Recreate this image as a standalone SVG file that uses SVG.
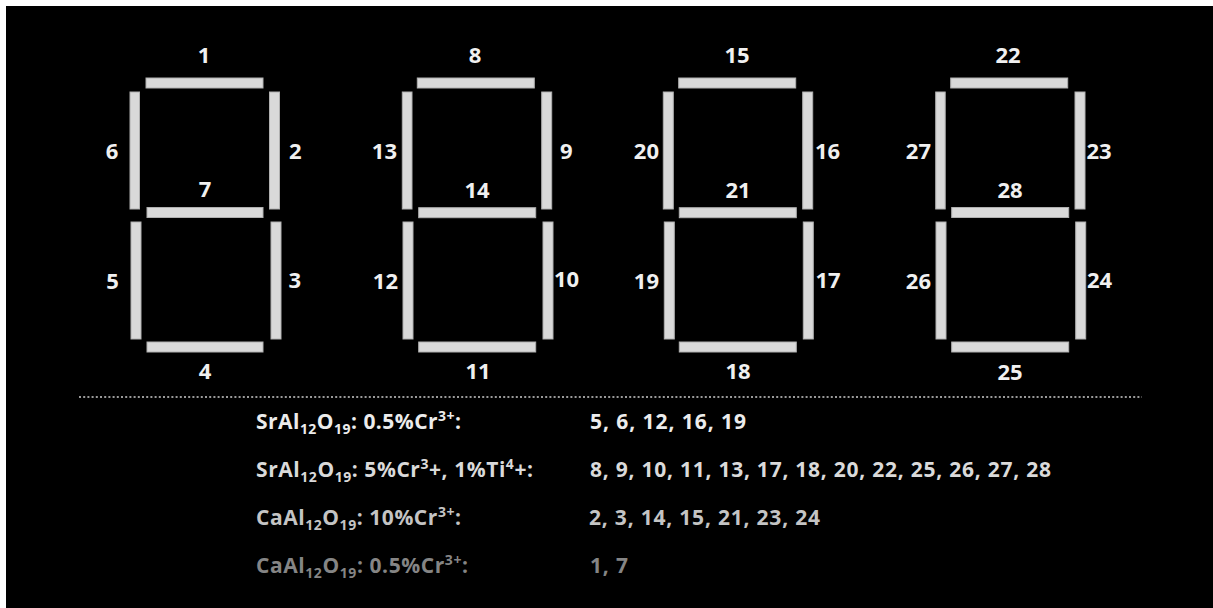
<svg xmlns="http://www.w3.org/2000/svg" width="1213" height="608" viewBox="0 0 1213 608">
<style>
.seg{fill:#d9d9d9;stroke:#b0b0b0;stroke-width:1}
.lbl{font-family:"Open Sans","Liberation Sans",sans-serif;font-weight:700;font-size:22px;fill:#f0f0f0}
.m{text-anchor:middle}
.e{text-anchor:end}
.leg{font-family:"Open Sans","Liberation Sans",sans-serif;font-weight:700;font-size:21px}
.sub{font-size:14px}
.l1{fill:#ececec}.l2{fill:#dadada}.l3{fill:#c4c4c4}.l4{fill:#858585}
</style>
<rect x="0" y="0" width="1213" height="608" fill="#ffffff"/>
<rect x="6" y="6" width="1207" height="602" fill="#000000"/>
<g id="digit1">
<rect class="seg" x="146" y="78" width="117" height="10"/>
<rect class="seg" x="130" y="92" width="9.5" height="117"/>
<rect class="seg" x="269.5" y="92" width="10" height="117"/>
<rect class="seg" x="147" y="207.5" width="116" height="10"/>
<rect class="seg" x="131" y="222" width="10" height="117"/>
<rect class="seg" x="271" y="222" width="10" height="117"/>
<rect class="seg" x="147" y="342" width="116" height="10"/>
<text class="lbl m" x="204" y="63">1</text>
<text class="lbl m" x="112" y="159">6</text>
<text class="lbl" x="289" y="159">2</text>
<text class="lbl m" x="205" y="197">7</text>
<text class="lbl m" x="112.5" y="289">5</text>
<text class="lbl" x="288.5" y="288">3</text>
<text class="lbl m" x="205" y="379">4</text>
</g>
<g id="digit2">
<rect class="seg" x="417.3" y="78" width="117" height="10"/>
<rect class="seg" x="402.3" y="92" width="9.7" height="117"/>
<rect class="seg" x="541.7" y="92" width="10" height="117"/>
<rect class="seg" x="418.7" y="207.7" width="117" height="10"/>
<rect class="seg" x="403" y="222" width="10" height="117"/>
<rect class="seg" x="543" y="222" width="10" height="117"/>
<rect class="seg" x="418.7" y="342" width="117" height="10"/>
<text class="lbl m" x="475" y="63">8</text>
<text class="lbl e" x="397" y="159">13</text>
<text class="lbl" x="560" y="159">9</text>
<text class="lbl m" x="477" y="198">14</text>
<text class="lbl e" x="398" y="289">12</text>
<text class="lbl" x="554" y="287">10</text>
<text class="lbl m" x="478" y="379">11</text>
</g>
<g id="digit3">
<rect class="seg" x="678.7" y="78" width="117" height="10"/>
<rect class="seg" x="663.3" y="92" width="10" height="117"/>
<rect class="seg" x="802.7" y="92" width="10" height="117"/>
<rect class="seg" x="679.3" y="207.7" width="117" height="10"/>
<rect class="seg" x="664.3" y="222" width="10" height="117"/>
<rect class="seg" x="803.3" y="222" width="10" height="117"/>
<rect class="seg" x="679.3" y="342" width="117" height="10"/>
<text class="lbl m" x="737" y="63">15</text>
<text class="lbl e" x="659" y="159">20</text>
<text class="lbl" x="815" y="159">16</text>
<text class="lbl m" x="738" y="198">21</text>
<text class="lbl e" x="659" y="289">19</text>
<text class="lbl" x="815.5" y="288">17</text>
<text class="lbl m" x="738" y="379">18</text>
</g>
<g id="digit4">
<rect class="seg" x="950.7" y="78" width="117" height="10"/>
<rect class="seg" x="935.7" y="92" width="9.5" height="117"/>
<rect class="seg" x="1075" y="92" width="10" height="117"/>
<rect class="seg" x="951.7" y="207.5" width="117" height="10"/>
<rect class="seg" x="936" y="222" width="10" height="117"/>
<rect class="seg" x="1075.7" y="222" width="10" height="117"/>
<rect class="seg" x="951.7" y="342" width="117" height="10"/>
<text class="lbl m" x="1008" y="63">22</text>
<text class="lbl e" x="931" y="159">27</text>
<text class="lbl" x="1086.5" y="159">23</text>
<text class="lbl m" x="1010" y="198">28</text>
<text class="lbl e" x="931" y="289">26</text>
<text class="lbl" x="1087" y="288">24</text>
<text class="lbl m" x="1010" y="380">25</text>
</g>
<g id="connectors">
<line x1="79" y1="397" x2="1142" y2="397" stroke="#9a9a9a" stroke-width="2" stroke-dasharray="2 2.2"/>
</g>
<g id="legend">
<text class="leg l1" x="256" y="429" textLength="205" lengthAdjust="spacing">SrAl<tspan class="sub" dy="5">12</tspan><tspan dy="-5">O</tspan><tspan class="sub" dy="5">19</tspan><tspan dy="-5">: 0.5%Cr</tspan><tspan class="sub" dy="-8">3+</tspan><tspan dy="8">:</tspan></text>
<text class="leg l1" x="590" y="429" textLength="156" lengthAdjust="spacing">5, 6, 12, 16, 19</text>
<text class="leg l2" x="256" y="477" textLength="277" lengthAdjust="spacing">SrAl<tspan class="sub" dy="5">12</tspan><tspan dy="-5">O</tspan><tspan class="sub" dy="5">19</tspan><tspan dy="-5">: 5%Cr</tspan><tspan class="sub" dy="-8">3</tspan><tspan dy="8">+, 1%Ti</tspan><tspan class="sub" dy="-8">4</tspan><tspan dy="8">+:</tspan></text>
<text class="leg l2" x="590" y="477" textLength="461" lengthAdjust="spacing">8, 9, 10, 11, 13, 17, 18, 20, 22, 25, 26, 27, 28</text>
<text class="leg l3" x="256" y="525" textLength="205" lengthAdjust="spacing">CaAl<tspan class="sub" dy="5">12</tspan><tspan dy="-5">O</tspan><tspan class="sub" dy="5">19</tspan><tspan dy="-5">: 10%Cr</tspan><tspan class="sub" dy="-8">3+</tspan><tspan dy="8">:</tspan></text>
<text class="leg l3" x="589" y="525" textLength="231" lengthAdjust="spacing">2, 3, 14, 15, 21, 23, 24</text>
<text class="leg l4" x="256" y="573" textLength="212" lengthAdjust="spacing">CaAl<tspan class="sub" dy="5">12</tspan><tspan dy="-5">O</tspan><tspan class="sub" dy="5">19</tspan><tspan dy="-5">: 0.5%Cr</tspan><tspan class="sub" dy="-8">3+</tspan><tspan dy="8">:</tspan></text>
<text class="leg l4" x="590" y="573" textLength="38" lengthAdjust="spacing">1, 7</text>
</g>
</svg>
